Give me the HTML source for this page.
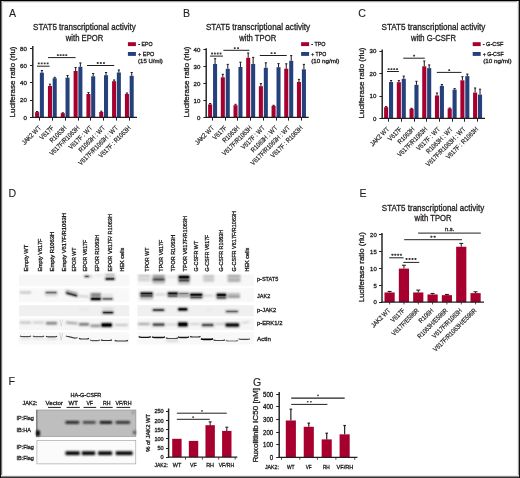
<!DOCTYPE html>
<html><head><meta charset="utf-8"><style>
html,body{margin:0;padding:0;background:#fff;}
svg{display:block;will-change:transform;font-family:"Liberation Sans",sans-serif;}
</style></head><body>
<svg width="520" height="478" viewBox="0 0 520 478">
<defs>
<filter id="b1" x="-20%" y="-100%" width="140%" height="300%"><feGaussianBlur stdDeviation="0.6"/></filter>
<filter id="b2" x="-20%" y="-100%" width="140%" height="300%"><feGaussianBlur stdDeviation="1.0"/></filter>
<filter id="g8" filterUnits="userSpaceOnUse" x="0" y="0" width="520" height="478"><feGaussianBlur stdDeviation="0.8"/></filter>
<filter id="g9" filterUnits="userSpaceOnUse" x="0" y="0" width="520" height="478"><feGaussianBlur stdDeviation="0.9"/></filter>
</defs>
<rect x="0" y="0" width="520" height="478" fill="#fff"/>
<rect x="35.10" y="112.10" width="4.05" height="5.20" fill="#a8002e"/>
<rect x="39.85" y="72.70" width="4.05" height="44.60" fill="#25417c"/>
<line x1="37.12" y1="112.10" x2="37.12" y2="111.50" stroke="#231f20" stroke-width="1.05"/>
<line x1="36.02" y1="111.50" x2="38.23" y2="111.50" stroke="#231f20" stroke-width="1.05"/>
<line x1="41.88" y1="72.70" x2="41.88" y2="70.50" stroke="#231f20" stroke-width="1.05"/>
<line x1="40.77" y1="70.50" x2="42.98" y2="70.50" stroke="#231f20" stroke-width="1.05"/>
<rect x="47.93" y="86.00" width="4.05" height="31.30" fill="#a8002e"/>
<rect x="52.68" y="78.20" width="4.05" height="39.10" fill="#25417c"/>
<line x1="49.95" y1="86.00" x2="49.95" y2="84.20" stroke="#231f20" stroke-width="1.05"/>
<line x1="48.85" y1="84.20" x2="51.05" y2="84.20" stroke="#231f20" stroke-width="1.05"/>
<line x1="54.70" y1="78.20" x2="54.70" y2="77.30" stroke="#231f20" stroke-width="1.05"/>
<line x1="53.60" y1="77.30" x2="55.80" y2="77.30" stroke="#231f20" stroke-width="1.05"/>
<rect x="60.76" y="113.20" width="4.05" height="4.10" fill="#a8002e"/>
<rect x="65.51" y="77.70" width="4.05" height="39.60" fill="#25417c"/>
<line x1="62.79" y1="113.20" x2="62.79" y2="112.80" stroke="#231f20" stroke-width="1.05"/>
<line x1="61.69" y1="112.80" x2="63.89" y2="112.80" stroke="#231f20" stroke-width="1.05"/>
<line x1="67.54" y1="77.70" x2="67.54" y2="75.50" stroke="#231f20" stroke-width="1.05"/>
<line x1="66.44" y1="75.50" x2="68.64" y2="75.50" stroke="#231f20" stroke-width="1.05"/>
<rect x="73.59" y="71.00" width="4.05" height="46.30" fill="#a8002e"/>
<rect x="78.34" y="66.80" width="4.05" height="50.50" fill="#25417c"/>
<line x1="75.62" y1="71.00" x2="75.62" y2="67.50" stroke="#231f20" stroke-width="1.05"/>
<line x1="74.52" y1="67.50" x2="76.72" y2="67.50" stroke="#231f20" stroke-width="1.05"/>
<line x1="80.37" y1="66.80" x2="80.37" y2="62.90" stroke="#231f20" stroke-width="1.05"/>
<line x1="79.27" y1="62.90" x2="81.47" y2="62.90" stroke="#231f20" stroke-width="1.05"/>
<rect x="86.42" y="94.00" width="4.05" height="23.30" fill="#a8002e"/>
<rect x="91.17" y="76.30" width="4.05" height="41.00" fill="#25417c"/>
<line x1="88.45" y1="94.00" x2="88.45" y2="92.50" stroke="#231f20" stroke-width="1.05"/>
<line x1="87.35" y1="92.50" x2="89.55" y2="92.50" stroke="#231f20" stroke-width="1.05"/>
<line x1="93.20" y1="76.30" x2="93.20" y2="73.50" stroke="#231f20" stroke-width="1.05"/>
<line x1="92.10" y1="73.50" x2="94.30" y2="73.50" stroke="#231f20" stroke-width="1.05"/>
<rect x="99.25" y="112.00" width="4.05" height="5.30" fill="#a8002e"/>
<rect x="104.00" y="75.20" width="4.05" height="42.10" fill="#25417c"/>
<line x1="101.28" y1="112.00" x2="101.28" y2="111.20" stroke="#231f20" stroke-width="1.05"/>
<line x1="100.18" y1="111.20" x2="102.38" y2="111.20" stroke="#231f20" stroke-width="1.05"/>
<line x1="106.03" y1="75.20" x2="106.03" y2="72.50" stroke="#231f20" stroke-width="1.05"/>
<line x1="104.93" y1="72.50" x2="107.12" y2="72.50" stroke="#231f20" stroke-width="1.05"/>
<rect x="112.08" y="81.20" width="4.05" height="36.10" fill="#a8002e"/>
<rect x="116.83" y="72.50" width="4.05" height="44.80" fill="#25417c"/>
<line x1="114.11" y1="81.20" x2="114.11" y2="80.00" stroke="#231f20" stroke-width="1.05"/>
<line x1="113.01" y1="80.00" x2="115.21" y2="80.00" stroke="#231f20" stroke-width="1.05"/>
<line x1="118.86" y1="72.50" x2="118.86" y2="70.00" stroke="#231f20" stroke-width="1.05"/>
<line x1="117.76" y1="70.00" x2="119.96" y2="70.00" stroke="#231f20" stroke-width="1.05"/>
<rect x="124.91" y="94.00" width="4.05" height="23.30" fill="#a8002e"/>
<rect x="129.66" y="75.80" width="4.05" height="41.50" fill="#25417c"/>
<line x1="126.94" y1="94.00" x2="126.94" y2="93.00" stroke="#231f20" stroke-width="1.05"/>
<line x1="125.84" y1="93.00" x2="128.03" y2="93.00" stroke="#231f20" stroke-width="1.05"/>
<line x1="131.69" y1="75.80" x2="131.69" y2="72.50" stroke="#231f20" stroke-width="1.05"/>
<line x1="130.59" y1="72.50" x2="132.78" y2="72.50" stroke="#231f20" stroke-width="1.05"/>
<line x1="32.80" y1="117.90" x2="32.80" y2="45.90" stroke="#231f20" stroke-width="1.45"/>
<line x1="30.00" y1="117.50" x2="32.80" y2="117.50" stroke="#231f20" stroke-width="1.05"/>
<text x="26.90" y="119.50" font-size="6.1" text-anchor="end" fill="#231f20" stroke="#231f20" stroke-width="0.32">0</text>
<line x1="30.00" y1="100.50" x2="32.80" y2="100.50" stroke="#231f20" stroke-width="1.05"/>
<text x="26.90" y="102.30" font-size="6.1" text-anchor="end" fill="#231f20" stroke="#231f20" stroke-width="0.32">20</text>
<line x1="30.00" y1="82.50" x2="32.80" y2="82.50" stroke="#231f20" stroke-width="1.05"/>
<text x="26.90" y="85.20" font-size="6.1" text-anchor="end" fill="#231f20" stroke="#231f20" stroke-width="0.32">40</text>
<line x1="30.00" y1="65.50" x2="32.80" y2="65.50" stroke="#231f20" stroke-width="1.05"/>
<text x="26.90" y="68.00" font-size="6.1" text-anchor="end" fill="#231f20" stroke="#231f20" stroke-width="0.32">60</text>
<line x1="30.00" y1="48.50" x2="32.80" y2="48.50" stroke="#231f20" stroke-width="1.05"/>
<text x="26.90" y="50.80" font-size="6.1" text-anchor="end" fill="#231f20" stroke="#231f20" stroke-width="0.32">80</text>
<line x1="32.20" y1="117.30" x2="137.00" y2="117.30" stroke="#231f20" stroke-width="1.25"/>
<line x1="39.50" y1="117.30" x2="39.50" y2="120.60" stroke="#231f20" stroke-width="1.05"/>
<line x1="52.50" y1="117.30" x2="52.50" y2="120.60" stroke="#231f20" stroke-width="1.05"/>
<line x1="65.50" y1="117.30" x2="65.50" y2="120.60" stroke="#231f20" stroke-width="1.05"/>
<line x1="78.50" y1="117.30" x2="78.50" y2="120.60" stroke="#231f20" stroke-width="1.05"/>
<line x1="90.50" y1="117.30" x2="90.50" y2="120.60" stroke="#231f20" stroke-width="1.05"/>
<line x1="103.50" y1="117.30" x2="103.50" y2="120.60" stroke="#231f20" stroke-width="1.05"/>
<line x1="116.50" y1="117.30" x2="116.50" y2="120.60" stroke="#231f20" stroke-width="1.05"/>
<line x1="129.50" y1="117.30" x2="129.50" y2="120.60" stroke="#231f20" stroke-width="1.05"/>
<text transform="translate(41.35,128.40) rotate(-45)" font-size="6.7" text-anchor="end" fill="#231f20" stroke="#231f20" stroke-width="0.18" textLength="23.97" lengthAdjust="spacingAndGlyphs">JAK2 WT</text>
<text transform="translate(54.18,128.40) rotate(-45)" font-size="6.7" text-anchor="end" fill="#231f20" stroke="#231f20" stroke-width="0.18" textLength="16.72" lengthAdjust="spacingAndGlyphs">V617F</text>
<text transform="translate(67.01,128.40) rotate(-45)" font-size="6.7" text-anchor="end" fill="#231f20" stroke="#231f20" stroke-width="0.18" textLength="20.82" lengthAdjust="spacingAndGlyphs">R1063H</text>
<text transform="translate(79.84,128.40) rotate(-45)" font-size="6.7" text-anchor="end" fill="#231f20" stroke="#231f20" stroke-width="0.18" textLength="39.12" lengthAdjust="spacingAndGlyphs">V617F/R1063H</text>
<text transform="translate(92.67,128.40) rotate(-45)" font-size="6.7" text-anchor="end" fill="#231f20" stroke="#231f20" stroke-width="0.18" textLength="30.28" lengthAdjust="spacingAndGlyphs">V617F : WT</text>
<text transform="translate(105.50,128.40) rotate(-45)" font-size="6.7" text-anchor="end" fill="#231f20" stroke="#231f20" stroke-width="0.18" textLength="34.38" lengthAdjust="spacingAndGlyphs">R1063H : WT</text>
<text transform="translate(118.33,128.40) rotate(-45)" font-size="6.7" text-anchor="end" fill="#231f20" stroke="#231f20" stroke-width="0.18" textLength="52.68" lengthAdjust="spacingAndGlyphs">V617F/R1063H : WT</text>
<text transform="translate(131.16,128.40) rotate(-45)" font-size="6.7" text-anchor="end" fill="#231f20" stroke="#231f20" stroke-width="0.18" textLength="42.28" lengthAdjust="spacingAndGlyphs">V617F : R1063H</text>
<text transform="translate(14.60,82.00) rotate(-90)" font-size="8" text-anchor="middle" fill="#231f20" stroke="#231f20" stroke-width="0.32" textLength="71.00" lengthAdjust="spacingAndGlyphs">Luciferase ratio (rlu)</text>
<text x="33.10" y="30.40" font-size="9.0" text-anchor="start" fill="#231f20" stroke="#231f20" stroke-width="0.32" textLength="102.60" lengthAdjust="spacingAndGlyphs">STAT5 transcriptional activity</text>
<text x="65.80" y="40.60" font-size="9.0" text-anchor="start" fill="#231f20" stroke="#231f20" stroke-width="0.32" textLength="37.60" lengthAdjust="spacingAndGlyphs">with EPOR</text>
<rect x="127.90" y="42.20" width="8.00" height="3.90" fill="#a8002e"/>
<rect x="127.90" y="52.00" width="8.00" height="3.90" fill="#25417c"/>
<text x="138.20" y="45.90" font-size="5.8" text-anchor="start" fill="#231f20" stroke="#231f20" stroke-width="0.32" textLength="14.30" lengthAdjust="spacingAndGlyphs">- EPO</text>
<text x="138.10" y="55.50" font-size="5.8" text-anchor="start" fill="#231f20" stroke="#231f20" stroke-width="0.32" textLength="16.20" lengthAdjust="spacingAndGlyphs">+ EPO</text>
<text x="138.10" y="62.80" font-size="5.8" text-anchor="start" fill="#231f20" stroke="#231f20" stroke-width="0.32" textLength="24.70" lengthAdjust="spacingAndGlyphs">(15 U/ml)</text>
<line x1="37.00" y1="66.20" x2="49.60" y2="66.20" stroke="#231f20" stroke-width="1.0"/>
<rect x="37.80" y="62.45" width="1.9" height="1.9" rx="0.4" fill="#3a3a3a"/>
<rect x="40.77" y="62.45" width="1.9" height="1.9" rx="0.4" fill="#3a3a3a"/>
<rect x="43.73" y="62.45" width="1.9" height="1.9" rx="0.4" fill="#3a3a3a"/>
<rect x="46.70" y="62.45" width="1.9" height="1.9" rx="0.4" fill="#3a3a3a"/>
<line x1="48.00" y1="57.60" x2="75.60" y2="57.60" stroke="#231f20" stroke-width="1.0"/>
<rect x="56.90" y="54.15" width="1.9" height="1.9" rx="0.4" fill="#3a3a3a"/>
<rect x="59.70" y="54.15" width="1.9" height="1.9" rx="0.4" fill="#3a3a3a"/>
<rect x="62.50" y="54.15" width="1.9" height="1.9" rx="0.4" fill="#3a3a3a"/>
<rect x="65.30" y="54.15" width="1.9" height="1.9" rx="0.4" fill="#3a3a3a"/>
<line x1="87.00" y1="65.50" x2="114.20" y2="65.50" stroke="#231f20" stroke-width="1.0"/>
<rect x="96.80" y="62.05" width="1.9" height="1.9" rx="0.4" fill="#3a3a3a"/>
<rect x="99.90" y="62.05" width="1.9" height="1.9" rx="0.4" fill="#3a3a3a"/>
<rect x="103.00" y="62.05" width="1.9" height="1.9" rx="0.4" fill="#3a3a3a"/>
<rect x="208.10" y="104.40" width="4.05" height="12.90" fill="#a8002e"/>
<rect x="213.05" y="64.00" width="4.05" height="53.30" fill="#25417c"/>
<line x1="210.12" y1="104.40" x2="210.12" y2="103.50" stroke="#231f20" stroke-width="1.05"/>
<line x1="209.03" y1="103.50" x2="211.22" y2="103.50" stroke="#231f20" stroke-width="1.05"/>
<line x1="215.07" y1="64.00" x2="215.07" y2="58.70" stroke="#231f20" stroke-width="1.05"/>
<line x1="213.97" y1="58.70" x2="216.17" y2="58.70" stroke="#231f20" stroke-width="1.05"/>
<rect x="220.79" y="77.30" width="4.05" height="40.00" fill="#a8002e"/>
<rect x="225.74" y="68.80" width="4.05" height="48.50" fill="#25417c"/>
<line x1="222.81" y1="77.30" x2="222.81" y2="74.30" stroke="#231f20" stroke-width="1.05"/>
<line x1="221.72" y1="74.30" x2="223.91" y2="74.30" stroke="#231f20" stroke-width="1.05"/>
<line x1="227.76" y1="68.80" x2="227.76" y2="64.40" stroke="#231f20" stroke-width="1.05"/>
<line x1="226.66" y1="64.40" x2="228.86" y2="64.40" stroke="#231f20" stroke-width="1.05"/>
<rect x="233.48" y="105.20" width="4.05" height="12.10" fill="#a8002e"/>
<rect x="238.43" y="67.00" width="4.05" height="50.30" fill="#25417c"/>
<line x1="235.50" y1="105.20" x2="235.50" y2="104.30" stroke="#231f20" stroke-width="1.05"/>
<line x1="234.41" y1="104.30" x2="236.60" y2="104.30" stroke="#231f20" stroke-width="1.05"/>
<line x1="240.45" y1="67.00" x2="240.45" y2="62.20" stroke="#231f20" stroke-width="1.05"/>
<line x1="239.35" y1="62.20" x2="241.55" y2="62.20" stroke="#231f20" stroke-width="1.05"/>
<rect x="246.17" y="57.80" width="4.05" height="59.50" fill="#a8002e"/>
<rect x="251.12" y="64.00" width="4.05" height="53.30" fill="#25417c"/>
<line x1="248.19" y1="57.80" x2="248.19" y2="53.00" stroke="#231f20" stroke-width="1.05"/>
<line x1="247.09" y1="53.00" x2="249.29" y2="53.00" stroke="#231f20" stroke-width="1.05"/>
<line x1="253.14" y1="64.00" x2="253.14" y2="57.40" stroke="#231f20" stroke-width="1.05"/>
<line x1="252.04" y1="57.40" x2="254.24" y2="57.40" stroke="#231f20" stroke-width="1.05"/>
<rect x="258.86" y="86.20" width="4.05" height="31.10" fill="#a8002e"/>
<rect x="263.81" y="67.80" width="4.05" height="49.50" fill="#25417c"/>
<line x1="260.88" y1="86.20" x2="260.88" y2="83.60" stroke="#231f20" stroke-width="1.05"/>
<line x1="259.78" y1="83.60" x2="261.99" y2="83.60" stroke="#231f20" stroke-width="1.05"/>
<line x1="265.83" y1="67.80" x2="265.83" y2="62.80" stroke="#231f20" stroke-width="1.05"/>
<line x1="264.73" y1="62.80" x2="266.94" y2="62.80" stroke="#231f20" stroke-width="1.05"/>
<rect x="271.55" y="105.90" width="4.05" height="11.40" fill="#a8002e"/>
<rect x="276.50" y="67.20" width="4.05" height="50.10" fill="#25417c"/>
<line x1="273.57" y1="105.90" x2="273.57" y2="105.30" stroke="#231f20" stroke-width="1.05"/>
<line x1="272.47" y1="105.30" x2="274.68" y2="105.30" stroke="#231f20" stroke-width="1.05"/>
<line x1="278.52" y1="67.20" x2="278.52" y2="63.60" stroke="#231f20" stroke-width="1.05"/>
<line x1="277.42" y1="63.60" x2="279.62" y2="63.60" stroke="#231f20" stroke-width="1.05"/>
<rect x="284.24" y="68.70" width="4.05" height="48.60" fill="#a8002e"/>
<rect x="289.19" y="60.80" width="4.05" height="56.50" fill="#25417c"/>
<line x1="286.26" y1="68.70" x2="286.26" y2="63.80" stroke="#231f20" stroke-width="1.05"/>
<line x1="285.16" y1="63.80" x2="287.37" y2="63.80" stroke="#231f20" stroke-width="1.05"/>
<line x1="291.21" y1="60.80" x2="291.21" y2="55.60" stroke="#231f20" stroke-width="1.05"/>
<line x1="290.11" y1="55.60" x2="292.31" y2="55.60" stroke="#231f20" stroke-width="1.05"/>
<rect x="296.93" y="82.00" width="4.05" height="35.30" fill="#a8002e"/>
<rect x="301.88" y="69.30" width="4.05" height="48.00" fill="#25417c"/>
<line x1="298.95" y1="82.00" x2="298.95" y2="79.40" stroke="#231f20" stroke-width="1.05"/>
<line x1="297.85" y1="79.40" x2="300.06" y2="79.40" stroke="#231f20" stroke-width="1.05"/>
<line x1="303.90" y1="69.30" x2="303.90" y2="64.40" stroke="#231f20" stroke-width="1.05"/>
<line x1="302.80" y1="64.40" x2="305.00" y2="64.40" stroke="#231f20" stroke-width="1.05"/>
<line x1="206.20" y1="117.90" x2="206.20" y2="48.20" stroke="#231f20" stroke-width="1.45"/>
<line x1="203.40" y1="117.50" x2="206.20" y2="117.50" stroke="#231f20" stroke-width="1.05"/>
<text x="200.30" y="119.50" font-size="6.1" text-anchor="end" fill="#231f20" stroke="#231f20" stroke-width="0.32">0</text>
<line x1="203.40" y1="100.50" x2="206.20" y2="100.50" stroke="#231f20" stroke-width="1.05"/>
<text x="200.30" y="102.50" font-size="6.1" text-anchor="end" fill="#231f20" stroke="#231f20" stroke-width="0.32">10</text>
<line x1="203.40" y1="83.50" x2="206.20" y2="83.50" stroke="#231f20" stroke-width="1.05"/>
<text x="200.30" y="85.50" font-size="6.1" text-anchor="end" fill="#231f20" stroke="#231f20" stroke-width="0.32">20</text>
<line x1="203.40" y1="66.50" x2="206.20" y2="66.50" stroke="#231f20" stroke-width="1.05"/>
<text x="200.30" y="68.50" font-size="6.1" text-anchor="end" fill="#231f20" stroke="#231f20" stroke-width="0.32">30</text>
<line x1="203.40" y1="49.50" x2="206.20" y2="49.50" stroke="#231f20" stroke-width="1.05"/>
<text x="200.30" y="51.50" font-size="6.1" text-anchor="end" fill="#231f20" stroke="#231f20" stroke-width="0.32">40</text>
<line x1="205.60" y1="117.30" x2="308.70" y2="117.30" stroke="#231f20" stroke-width="1.25"/>
<line x1="212.50" y1="117.30" x2="212.50" y2="120.60" stroke="#231f20" stroke-width="1.05"/>
<line x1="225.50" y1="117.30" x2="225.50" y2="120.60" stroke="#231f20" stroke-width="1.05"/>
<line x1="237.50" y1="117.30" x2="237.50" y2="120.60" stroke="#231f20" stroke-width="1.05"/>
<line x1="250.50" y1="117.30" x2="250.50" y2="120.60" stroke="#231f20" stroke-width="1.05"/>
<line x1="263.50" y1="117.30" x2="263.50" y2="120.60" stroke="#231f20" stroke-width="1.05"/>
<line x1="276.50" y1="117.30" x2="276.50" y2="120.60" stroke="#231f20" stroke-width="1.05"/>
<line x1="288.50" y1="117.30" x2="288.50" y2="120.60" stroke="#231f20" stroke-width="1.05"/>
<line x1="301.50" y1="117.30" x2="301.50" y2="120.60" stroke="#231f20" stroke-width="1.05"/>
<text transform="translate(214.40,128.40) rotate(-45)" font-size="6.7" text-anchor="end" fill="#231f20" stroke="#231f20" stroke-width="0.18" textLength="23.97" lengthAdjust="spacingAndGlyphs">JAK2 WT</text>
<text transform="translate(227.09,128.40) rotate(-45)" font-size="6.7" text-anchor="end" fill="#231f20" stroke="#231f20" stroke-width="0.18" textLength="16.72" lengthAdjust="spacingAndGlyphs">V617F</text>
<text transform="translate(239.78,128.40) rotate(-45)" font-size="6.7" text-anchor="end" fill="#231f20" stroke="#231f20" stroke-width="0.18" textLength="20.82" lengthAdjust="spacingAndGlyphs">R1063H</text>
<text transform="translate(252.47,128.40) rotate(-45)" font-size="6.7" text-anchor="end" fill="#231f20" stroke="#231f20" stroke-width="0.18" textLength="39.12" lengthAdjust="spacingAndGlyphs">V617F/R1063H</text>
<text transform="translate(265.16,128.40) rotate(-45)" font-size="6.7" text-anchor="end" fill="#231f20" stroke="#231f20" stroke-width="0.18" textLength="30.28" lengthAdjust="spacingAndGlyphs">V617F : WT</text>
<text transform="translate(277.85,128.40) rotate(-45)" font-size="6.7" text-anchor="end" fill="#231f20" stroke="#231f20" stroke-width="0.18" textLength="34.38" lengthAdjust="spacingAndGlyphs">R1063H : WT</text>
<text transform="translate(290.54,128.40) rotate(-45)" font-size="6.7" text-anchor="end" fill="#231f20" stroke="#231f20" stroke-width="0.18" textLength="52.68" lengthAdjust="spacingAndGlyphs">V617F/R1063H : WT</text>
<text transform="translate(303.23,128.40) rotate(-45)" font-size="6.7" text-anchor="end" fill="#231f20" stroke="#231f20" stroke-width="0.18" textLength="42.28" lengthAdjust="spacingAndGlyphs">V617F : R1063H</text>
<text transform="translate(188.60,82.00) rotate(-90)" font-size="8" text-anchor="middle" fill="#231f20" stroke="#231f20" stroke-width="0.32" textLength="71.00" lengthAdjust="spacingAndGlyphs">Luciferase ratio (rlu)</text>
<text x="205.90" y="30.40" font-size="9.0" text-anchor="start" fill="#231f20" stroke="#231f20" stroke-width="0.32" textLength="104.30" lengthAdjust="spacingAndGlyphs">STAT5 transcriptional activity</text>
<text x="239.20" y="40.60" font-size="9.0" text-anchor="start" fill="#231f20" stroke="#231f20" stroke-width="0.32" textLength="37.00" lengthAdjust="spacingAndGlyphs">with TPOR</text>
<rect x="301.10" y="42.20" width="8.00" height="3.90" fill="#a8002e"/>
<rect x="301.10" y="52.00" width="8.00" height="3.90" fill="#25417c"/>
<text x="311.20" y="45.90" font-size="5.8" text-anchor="start" fill="#231f20" stroke="#231f20" stroke-width="0.32" textLength="14.30" lengthAdjust="spacingAndGlyphs">- TPO</text>
<text x="311.20" y="55.50" font-size="5.8" text-anchor="start" fill="#231f20" stroke="#231f20" stroke-width="0.32" textLength="15.00" lengthAdjust="spacingAndGlyphs">+ TPO</text>
<text x="311.20" y="62.80" font-size="5.8" text-anchor="start" fill="#231f20" stroke="#231f20" stroke-width="0.32" textLength="28.20" lengthAdjust="spacingAndGlyphs">(10 ng/ml)</text>
<line x1="210.00" y1="56.10" x2="223.00" y2="56.10" stroke="#231f20" stroke-width="1.0"/>
<rect x="211.10" y="52.55" width="1.9" height="1.9" rx="0.4" fill="#3a3a3a"/>
<rect x="213.93" y="52.55" width="1.9" height="1.9" rx="0.4" fill="#3a3a3a"/>
<rect x="216.77" y="52.55" width="1.9" height="1.9" rx="0.4" fill="#3a3a3a"/>
<rect x="219.60" y="52.55" width="1.9" height="1.9" rx="0.4" fill="#3a3a3a"/>
<line x1="223.40" y1="50.30" x2="249.40" y2="50.30" stroke="#231f20" stroke-width="1.0"/>
<rect x="233.80" y="47.15" width="1.9" height="1.9" rx="0.4" fill="#3a3a3a"/>
<rect x="237.10" y="47.15" width="1.9" height="1.9" rx="0.4" fill="#3a3a3a"/>
<line x1="259.80" y1="55.50" x2="286.70" y2="55.50" stroke="#231f20" stroke-width="1.0"/>
<rect x="270.60" y="52.15" width="1.9" height="1.9" rx="0.4" fill="#3a3a3a"/>
<rect x="273.90" y="52.15" width="1.9" height="1.9" rx="0.4" fill="#3a3a3a"/>
<rect x="384.10" y="107.20" width="4.10" height="11.20" fill="#a8002e"/>
<rect x="389.00" y="82.00" width="4.10" height="36.40" fill="#25417c"/>
<line x1="386.15" y1="107.20" x2="386.15" y2="106.60" stroke="#231f20" stroke-width="1.05"/>
<line x1="385.05" y1="106.60" x2="387.25" y2="106.60" stroke="#231f20" stroke-width="1.05"/>
<line x1="391.05" y1="82.00" x2="391.05" y2="80.50" stroke="#231f20" stroke-width="1.05"/>
<line x1="389.95" y1="80.50" x2="392.15" y2="80.50" stroke="#231f20" stroke-width="1.05"/>
<rect x="396.81" y="82.20" width="4.10" height="36.20" fill="#a8002e"/>
<rect x="401.71" y="78.80" width="4.10" height="39.60" fill="#25417c"/>
<line x1="398.86" y1="82.20" x2="398.86" y2="80.60" stroke="#231f20" stroke-width="1.05"/>
<line x1="397.76" y1="80.60" x2="399.96" y2="80.60" stroke="#231f20" stroke-width="1.05"/>
<line x1="403.76" y1="78.80" x2="403.76" y2="76.10" stroke="#231f20" stroke-width="1.05"/>
<line x1="402.66" y1="76.10" x2="404.86" y2="76.10" stroke="#231f20" stroke-width="1.05"/>
<rect x="409.52" y="108.80" width="4.10" height="9.60" fill="#a8002e"/>
<rect x="414.42" y="84.80" width="4.10" height="33.60" fill="#25417c"/>
<line x1="411.57" y1="108.80" x2="411.57" y2="108.30" stroke="#231f20" stroke-width="1.05"/>
<line x1="410.47" y1="108.30" x2="412.67" y2="108.30" stroke="#231f20" stroke-width="1.05"/>
<line x1="416.47" y1="84.80" x2="416.47" y2="81.30" stroke="#231f20" stroke-width="1.05"/>
<line x1="415.37" y1="81.30" x2="417.57" y2="81.30" stroke="#231f20" stroke-width="1.05"/>
<rect x="422.23" y="66.30" width="4.10" height="52.10" fill="#a8002e"/>
<rect x="427.13" y="68.10" width="4.10" height="50.30" fill="#25417c"/>
<line x1="424.28" y1="66.30" x2="424.28" y2="61.00" stroke="#231f20" stroke-width="1.05"/>
<line x1="423.18" y1="61.00" x2="425.38" y2="61.00" stroke="#231f20" stroke-width="1.05"/>
<line x1="429.18" y1="68.10" x2="429.18" y2="64.90" stroke="#231f20" stroke-width="1.05"/>
<line x1="428.08" y1="64.90" x2="430.28" y2="64.90" stroke="#231f20" stroke-width="1.05"/>
<rect x="434.94" y="95.50" width="4.10" height="22.90" fill="#a8002e"/>
<rect x="439.84" y="85.90" width="4.10" height="32.50" fill="#25417c"/>
<line x1="436.99" y1="95.50" x2="436.99" y2="93.00" stroke="#231f20" stroke-width="1.05"/>
<line x1="435.89" y1="93.00" x2="438.09" y2="93.00" stroke="#231f20" stroke-width="1.05"/>
<line x1="441.89" y1="85.90" x2="441.89" y2="84.50" stroke="#231f20" stroke-width="1.05"/>
<line x1="440.79" y1="84.50" x2="442.99" y2="84.50" stroke="#231f20" stroke-width="1.05"/>
<rect x="447.65" y="108.50" width="4.10" height="9.90" fill="#a8002e"/>
<rect x="452.55" y="89.60" width="4.10" height="28.80" fill="#25417c"/>
<line x1="449.70" y1="108.50" x2="449.70" y2="108.00" stroke="#231f20" stroke-width="1.05"/>
<line x1="448.60" y1="108.00" x2="450.80" y2="108.00" stroke="#231f20" stroke-width="1.05"/>
<line x1="454.60" y1="89.60" x2="454.60" y2="88.60" stroke="#231f20" stroke-width="1.05"/>
<line x1="453.50" y1="88.60" x2="455.70" y2="88.60" stroke="#231f20" stroke-width="1.05"/>
<rect x="460.36" y="80.30" width="4.10" height="38.10" fill="#a8002e"/>
<rect x="465.26" y="76.10" width="4.10" height="42.30" fill="#25417c"/>
<line x1="462.41" y1="80.30" x2="462.41" y2="76.70" stroke="#231f20" stroke-width="1.05"/>
<line x1="461.31" y1="76.70" x2="463.51" y2="76.70" stroke="#231f20" stroke-width="1.05"/>
<line x1="467.31" y1="76.10" x2="467.31" y2="74.10" stroke="#231f20" stroke-width="1.05"/>
<line x1="466.21" y1="74.10" x2="468.41" y2="74.10" stroke="#231f20" stroke-width="1.05"/>
<rect x="473.07" y="92.60" width="4.10" height="25.80" fill="#a8002e"/>
<rect x="477.97" y="94.60" width="4.10" height="23.80" fill="#25417c"/>
<line x1="475.12" y1="92.60" x2="475.12" y2="88.00" stroke="#231f20" stroke-width="1.05"/>
<line x1="474.02" y1="88.00" x2="476.22" y2="88.00" stroke="#231f20" stroke-width="1.05"/>
<line x1="480.02" y1="94.60" x2="480.02" y2="89.20" stroke="#231f20" stroke-width="1.05"/>
<line x1="478.92" y1="89.20" x2="481.12" y2="89.20" stroke="#231f20" stroke-width="1.05"/>
<line x1="382.20" y1="119.00" x2="382.20" y2="49.60" stroke="#231f20" stroke-width="1.45"/>
<line x1="379.40" y1="118.50" x2="382.20" y2="118.50" stroke="#231f20" stroke-width="1.05"/>
<text x="376.30" y="120.60" font-size="6.1" text-anchor="end" fill="#231f20" stroke="#231f20" stroke-width="0.32">0</text>
<line x1="379.40" y1="96.50" x2="382.20" y2="96.50" stroke="#231f20" stroke-width="1.05"/>
<text x="376.30" y="98.30" font-size="6.1" text-anchor="end" fill="#231f20" stroke="#231f20" stroke-width="0.32">10</text>
<line x1="379.40" y1="73.50" x2="382.20" y2="73.50" stroke="#231f20" stroke-width="1.05"/>
<text x="376.30" y="75.80" font-size="6.1" text-anchor="end" fill="#231f20" stroke="#231f20" stroke-width="0.32">20</text>
<line x1="379.40" y1="51.50" x2="382.20" y2="51.50" stroke="#231f20" stroke-width="1.05"/>
<text x="376.30" y="53.30" font-size="6.1" text-anchor="end" fill="#231f20" stroke="#231f20" stroke-width="0.32">30</text>
<line x1="381.60" y1="118.40" x2="485.00" y2="118.40" stroke="#231f20" stroke-width="1.25"/>
<line x1="388.50" y1="118.40" x2="388.50" y2="121.70" stroke="#231f20" stroke-width="1.05"/>
<line x1="401.50" y1="118.40" x2="401.50" y2="121.70" stroke="#231f20" stroke-width="1.05"/>
<line x1="414.50" y1="118.40" x2="414.50" y2="121.70" stroke="#231f20" stroke-width="1.05"/>
<line x1="426.50" y1="118.40" x2="426.50" y2="121.70" stroke="#231f20" stroke-width="1.05"/>
<line x1="439.50" y1="118.40" x2="439.50" y2="121.70" stroke="#231f20" stroke-width="1.05"/>
<line x1="452.50" y1="118.40" x2="452.50" y2="121.70" stroke="#231f20" stroke-width="1.05"/>
<line x1="464.50" y1="118.40" x2="464.50" y2="121.70" stroke="#231f20" stroke-width="1.05"/>
<line x1="477.50" y1="118.40" x2="477.50" y2="121.70" stroke="#231f20" stroke-width="1.05"/>
<text transform="translate(389.60,129.70) rotate(-45)" font-size="6.7" text-anchor="end" fill="#231f20" stroke="#231f20" stroke-width="0.18" textLength="23.97" lengthAdjust="spacingAndGlyphs">JAK2 WT</text>
<text transform="translate(402.31,129.70) rotate(-45)" font-size="6.7" text-anchor="end" fill="#231f20" stroke="#231f20" stroke-width="0.18" textLength="16.72" lengthAdjust="spacingAndGlyphs">V617F</text>
<text transform="translate(415.02,129.70) rotate(-45)" font-size="6.7" text-anchor="end" fill="#231f20" stroke="#231f20" stroke-width="0.18" textLength="20.82" lengthAdjust="spacingAndGlyphs">R1063H</text>
<text transform="translate(427.73,129.70) rotate(-45)" font-size="6.7" text-anchor="end" fill="#231f20" stroke="#231f20" stroke-width="0.18" textLength="39.12" lengthAdjust="spacingAndGlyphs">V617F/R1063H</text>
<text transform="translate(440.44,129.70) rotate(-45)" font-size="6.7" text-anchor="end" fill="#231f20" stroke="#231f20" stroke-width="0.18" textLength="30.28" lengthAdjust="spacingAndGlyphs">V617F : WT</text>
<text transform="translate(453.15,129.70) rotate(-45)" font-size="6.7" text-anchor="end" fill="#231f20" stroke="#231f20" stroke-width="0.18" textLength="34.38" lengthAdjust="spacingAndGlyphs">R1063H : WT</text>
<text transform="translate(465.86,129.70) rotate(-45)" font-size="6.7" text-anchor="end" fill="#231f20" stroke="#231f20" stroke-width="0.18" textLength="52.68" lengthAdjust="spacingAndGlyphs">V617F/R1063H : WT</text>
<text transform="translate(478.57,129.70) rotate(-45)" font-size="6.7" text-anchor="end" fill="#231f20" stroke="#231f20" stroke-width="0.18" textLength="42.28" lengthAdjust="spacingAndGlyphs">V617F : R1063H</text>
<text transform="translate(364.20,83.00) rotate(-90)" font-size="8" text-anchor="middle" fill="#231f20" stroke="#231f20" stroke-width="0.32" textLength="71.00" lengthAdjust="spacingAndGlyphs">Luciferase ratio (rlu)</text>
<text x="381.50" y="30.40" font-size="9.0" text-anchor="start" fill="#231f20" stroke="#231f20" stroke-width="0.32" textLength="103.90" lengthAdjust="spacingAndGlyphs">STAT5 transcriptional activity</text>
<text x="411.00" y="40.60" font-size="9.0" text-anchor="start" fill="#231f20" stroke="#231f20" stroke-width="0.32" textLength="45.00" lengthAdjust="spacingAndGlyphs">with G-CSFR</text>
<rect x="472.70" y="42.20" width="8.00" height="3.90" fill="#a8002e"/>
<rect x="472.70" y="52.00" width="8.00" height="3.90" fill="#25417c"/>
<text x="482.70" y="45.90" font-size="5.8" text-anchor="start" fill="#231f20" stroke="#231f20" stroke-width="0.32" textLength="20.80" lengthAdjust="spacingAndGlyphs">- G-CSF</text>
<text x="482.70" y="55.50" font-size="5.8" text-anchor="start" fill="#231f20" stroke="#231f20" stroke-width="0.32" textLength="21.00" lengthAdjust="spacingAndGlyphs">+ G-CSF</text>
<text x="483.20" y="62.80" font-size="5.8" text-anchor="start" fill="#231f20" stroke="#231f20" stroke-width="0.32" textLength="28.30" lengthAdjust="spacingAndGlyphs">(10 ng/ml)</text>
<line x1="387.00" y1="71.50" x2="398.90" y2="71.50" stroke="#231f20" stroke-width="1.0"/>
<rect x="387.70" y="68.15" width="1.9" height="1.9" rx="0.4" fill="#3a3a3a"/>
<rect x="390.50" y="68.15" width="1.9" height="1.9" rx="0.4" fill="#3a3a3a"/>
<rect x="393.30" y="68.15" width="1.9" height="1.9" rx="0.4" fill="#3a3a3a"/>
<rect x="396.10" y="68.15" width="1.9" height="1.9" rx="0.4" fill="#3a3a3a"/>
<line x1="403.20" y1="58.20" x2="424.80" y2="58.20" stroke="#231f20" stroke-width="1.0"/>
<rect x="413.15" y="54.65" width="1.9" height="1.9" rx="0.4" fill="#3a3a3a"/>
<line x1="436.80" y1="72.40" x2="461.50" y2="72.40" stroke="#231f20" stroke-width="1.0"/>
<rect x="448.25" y="69.15" width="1.9" height="1.9" rx="0.4" fill="#3a3a3a"/>
<text x="9.00" y="17.30" font-size="10.6" text-anchor="start" fill="#231f20" stroke="#231f20" stroke-width="0.12">A</text>
<text x="183.00" y="16.90" font-size="10.6" text-anchor="start" fill="#231f20" stroke="#231f20" stroke-width="0.12">B</text>
<text x="358.20" y="17.30" font-size="10.6" text-anchor="start" fill="#231f20" stroke="#231f20" stroke-width="0.12">C</text>
<text x="8.50" y="197.20" font-size="10.6" text-anchor="start" fill="#231f20" stroke="#231f20" stroke-width="0.12">D</text>
<text x="359.40" y="197.30" font-size="10.6" text-anchor="start" fill="#231f20" stroke="#231f20" stroke-width="0.12">E</text>
<text x="8.40" y="385.10" font-size="10.6" text-anchor="start" fill="#231f20" stroke="#231f20" stroke-width="0.12">F</text>
<text x="253.00" y="385.70" font-size="10.6" text-anchor="start" fill="#231f20" stroke="#231f20" stroke-width="0.12">G</text>
<rect x="384.50" y="292.46" width="10.20" height="9.74" fill="#a8002e"/>
<line x1="389.60" y1="292.46" x2="389.60" y2="291.45" stroke="#231f20" stroke-width="1.05"/>
<line x1="387.60" y1="291.45" x2="391.60" y2="291.45" stroke="#231f20" stroke-width="1.05"/>
<rect x="398.83" y="268.60" width="10.20" height="33.60" fill="#a8002e"/>
<line x1="403.93" y1="268.60" x2="403.93" y2="265.24" stroke="#231f20" stroke-width="1.05"/>
<line x1="401.93" y1="265.24" x2="405.93" y2="265.24" stroke="#231f20" stroke-width="1.05"/>
<rect x="413.16" y="292.46" width="10.20" height="9.74" fill="#a8002e"/>
<line x1="418.26" y1="292.46" x2="418.26" y2="290.10" stroke="#231f20" stroke-width="1.05"/>
<line x1="416.26" y1="290.10" x2="420.26" y2="290.10" stroke="#231f20" stroke-width="1.05"/>
<rect x="427.49" y="294.47" width="10.20" height="7.73" fill="#a8002e"/>
<line x1="432.59" y1="294.47" x2="432.59" y2="293.46" stroke="#231f20" stroke-width="1.05"/>
<line x1="430.59" y1="293.46" x2="434.59" y2="293.46" stroke="#231f20" stroke-width="1.05"/>
<rect x="441.82" y="295.14" width="10.20" height="7.06" fill="#a8002e"/>
<line x1="446.92" y1="295.14" x2="446.92" y2="294.47" stroke="#231f20" stroke-width="1.05"/>
<line x1="444.92" y1="294.47" x2="448.92" y2="294.47" stroke="#231f20" stroke-width="1.05"/>
<rect x="456.15" y="246.76" width="10.20" height="55.44" fill="#a8002e"/>
<line x1="461.25" y1="246.76" x2="461.25" y2="243.40" stroke="#231f20" stroke-width="1.05"/>
<line x1="459.25" y1="243.40" x2="463.25" y2="243.40" stroke="#231f20" stroke-width="1.05"/>
<rect x="470.48" y="293.13" width="10.20" height="9.07" fill="#a8002e"/>
<line x1="475.58" y1="293.13" x2="475.58" y2="291.78" stroke="#231f20" stroke-width="1.05"/>
<line x1="473.58" y1="291.78" x2="477.58" y2="291.78" stroke="#231f20" stroke-width="1.05"/>
<line x1="382.00" y1="302.80" x2="382.00" y2="232.90" stroke="#231f20" stroke-width="1.45"/>
<line x1="379.00" y1="302.50" x2="382.00" y2="302.50" stroke="#231f20" stroke-width="1.05"/>
<text x="376.70" y="304.43" font-size="6.2" text-anchor="end" fill="#231f20" stroke="#231f20" stroke-width="0.32" textLength="3.30" lengthAdjust="spacingAndGlyphs">0</text>
<line x1="379.00" y1="285.50" x2="382.00" y2="285.50" stroke="#231f20" stroke-width="1.05"/>
<text x="376.70" y="287.63" font-size="6.2" text-anchor="end" fill="#231f20" stroke="#231f20" stroke-width="0.32" textLength="3.30" lengthAdjust="spacingAndGlyphs">5</text>
<line x1="379.00" y1="268.50" x2="382.00" y2="268.50" stroke="#231f20" stroke-width="1.05"/>
<text x="376.70" y="270.83" font-size="6.2" text-anchor="end" fill="#231f20" stroke="#231f20" stroke-width="0.32" textLength="6.60" lengthAdjust="spacingAndGlyphs">10</text>
<line x1="379.00" y1="251.50" x2="382.00" y2="251.50" stroke="#231f20" stroke-width="1.05"/>
<text x="376.70" y="254.03" font-size="6.2" text-anchor="end" fill="#231f20" stroke="#231f20" stroke-width="0.32" textLength="6.60" lengthAdjust="spacingAndGlyphs">15</text>
<line x1="379.00" y1="234.50" x2="382.00" y2="234.50" stroke="#231f20" stroke-width="1.05"/>
<text x="376.70" y="237.23" font-size="6.2" text-anchor="end" fill="#231f20" stroke="#231f20" stroke-width="0.32" textLength="6.60" lengthAdjust="spacingAndGlyphs">20</text>
<line x1="381.40" y1="302.20" x2="484.00" y2="302.20" stroke="#231f20" stroke-width="1.25"/>
<line x1="389.60" y1="302.20" x2="389.60" y2="304.40" stroke="#231f20" stroke-width="0.8"/>
<text transform="translate(390.80,311.00) rotate(-45)" font-size="6.7" text-anchor="end" fill="#231f20" stroke="#231f20" stroke-width="0.18" textLength="23.97" lengthAdjust="spacingAndGlyphs">JAK2 WT</text>
<line x1="403.93" y1="302.20" x2="403.93" y2="304.40" stroke="#231f20" stroke-width="0.8"/>
<text transform="translate(405.13,311.00) rotate(-45)" font-size="6.7" text-anchor="end" fill="#231f20" stroke="#231f20" stroke-width="0.18" textLength="16.72" lengthAdjust="spacingAndGlyphs">V617F</text>
<line x1="418.26" y1="302.20" x2="418.26" y2="304.40" stroke="#231f20" stroke-width="0.8"/>
<text transform="translate(419.46,311.00) rotate(-45)" font-size="6.7" text-anchor="end" fill="#231f20" stroke="#231f20" stroke-width="0.18" textLength="35.65" lengthAdjust="spacingAndGlyphs">V617F/E596R</text>
<line x1="432.59" y1="302.20" x2="432.59" y2="304.40" stroke="#231f20" stroke-width="0.8"/>
<text transform="translate(433.79,311.00) rotate(-45)" font-size="6.7" text-anchor="end" fill="#231f20" stroke="#231f20" stroke-width="0.18" textLength="17.67" lengthAdjust="spacingAndGlyphs">R106H</text>
<line x1="446.92" y1="302.20" x2="446.92" y2="304.40" stroke="#231f20" stroke-width="0.8"/>
<text transform="translate(448.12,311.00) rotate(-45)" font-size="6.7" text-anchor="end" fill="#231f20" stroke="#231f20" stroke-width="0.18" textLength="39.76" lengthAdjust="spacingAndGlyphs">R1063H/E596R</text>
<line x1="461.25" y1="302.20" x2="461.25" y2="304.40" stroke="#231f20" stroke-width="0.8"/>
<text transform="translate(462.45,311.00) rotate(-45)" font-size="6.7" text-anchor="end" fill="#231f20" stroke="#231f20" stroke-width="0.18" textLength="39.12" lengthAdjust="spacingAndGlyphs">V617F/R1063H</text>
<line x1="475.58" y1="302.20" x2="475.58" y2="304.40" stroke="#231f20" stroke-width="0.8"/>
<text transform="translate(476.78,311.00) rotate(-45)" font-size="6.7" text-anchor="end" fill="#231f20" stroke="#231f20" stroke-width="0.18" textLength="58.05" lengthAdjust="spacingAndGlyphs">V617F/R1063H/E596R</text>
<text transform="translate(363.60,267.20) rotate(-90)" font-size="8" text-anchor="middle" fill="#231f20" stroke="#231f20" stroke-width="0.32" textLength="70.00" lengthAdjust="spacingAndGlyphs">Luciferase ratio (rlu)</text>
<text x="381.80" y="210.60" font-size="9.0" text-anchor="start" fill="#231f20" stroke="#231f20" stroke-width="0.32" textLength="102.50" lengthAdjust="spacingAndGlyphs">STAT5 transcriptional activity</text>
<text x="414.60" y="220.80" font-size="9.0" text-anchor="start" fill="#231f20" stroke="#231f20" stroke-width="0.32" textLength="36.90" lengthAdjust="spacingAndGlyphs">with TPOR</text>
<line x1="389.20" y1="257.80" x2="403.60" y2="257.80" stroke="#231f20" stroke-width="1.0"/>
<rect x="391.50" y="253.75" width="1.9" height="1.9" rx="0.4" fill="#3a3a3a"/>
<rect x="394.33" y="253.75" width="1.9" height="1.9" rx="0.4" fill="#3a3a3a"/>
<rect x="397.17" y="253.75" width="1.9" height="1.9" rx="0.4" fill="#3a3a3a"/>
<rect x="400.00" y="253.75" width="1.9" height="1.9" rx="0.4" fill="#3a3a3a"/>
<line x1="403.30" y1="262.40" x2="419.20" y2="262.40" stroke="#231f20" stroke-width="1.0"/>
<rect x="405.60" y="258.05" width="1.9" height="1.9" rx="0.4" fill="#3a3a3a"/>
<rect x="408.57" y="258.05" width="1.9" height="1.9" rx="0.4" fill="#3a3a3a"/>
<rect x="411.53" y="258.05" width="1.9" height="1.9" rx="0.4" fill="#3a3a3a"/>
<rect x="414.50" y="258.05" width="1.9" height="1.9" rx="0.4" fill="#3a3a3a"/>
<line x1="404.20" y1="239.70" x2="461.90" y2="239.70" stroke="#231f20" stroke-width="1.0"/>
<rect x="430.40" y="235.75" width="1.9" height="1.9" rx="0.4" fill="#3a3a3a"/>
<rect x="433.70" y="235.75" width="1.9" height="1.9" rx="0.4" fill="#3a3a3a"/>
<line x1="418.10" y1="233.10" x2="480.80" y2="233.10" stroke="#231f20" stroke-width="1.0"/>
<text x="444.90" y="230.80" font-size="6.2" text-anchor="start" fill="#231f20" stroke="#231f20" stroke-width="0.32" textLength="9.40" lengthAdjust="spacingAndGlyphs">n.s.</text>
<text x="70.40" y="396.60" font-size="6.0" text-anchor="start" fill="#231f20" stroke="#231f20" stroke-width="0.32" textLength="31.00" lengthAdjust="spacingAndGlyphs">HA-G-CSFR</text>
<text x="22.40" y="405.40" font-size="6.0" text-anchor="start" fill="#231f20" stroke="#231f20" stroke-width="0.32" textLength="14.90" lengthAdjust="spacingAndGlyphs">JAK2:</text>
<text x="45.60" y="405.40" font-size="6.0" text-anchor="start" fill="#231f20" stroke="#231f20" stroke-width="0.32" textLength="17.20" lengthAdjust="spacingAndGlyphs">Vector</text>
<line x1="48.00" y1="407.40" x2="60.90" y2="407.40" stroke="#231f20" stroke-width="1.0"/>
<text x="68.50" y="405.40" font-size="6.0" text-anchor="start" fill="#231f20" stroke="#231f20" stroke-width="0.32" textLength="9.40" lengthAdjust="spacingAndGlyphs">WT</text>
<line x1="66.60" y1="407.40" x2="79.80" y2="407.40" stroke="#231f20" stroke-width="1.0"/>
<text x="86.40" y="405.40" font-size="6.0" text-anchor="start" fill="#231f20" stroke="#231f20" stroke-width="0.32" textLength="6.60" lengthAdjust="spacingAndGlyphs">VF</text>
<line x1="83.50" y1="407.40" x2="96.20" y2="407.40" stroke="#231f20" stroke-width="1.0"/>
<text x="102.90" y="405.40" font-size="6.0" text-anchor="start" fill="#231f20" stroke="#231f20" stroke-width="0.32" textLength="7.60" lengthAdjust="spacingAndGlyphs">RH</text>
<line x1="100.10" y1="407.40" x2="112.70" y2="407.40" stroke="#231f20" stroke-width="1.0"/>
<text x="115.50" y="405.40" font-size="6.0" text-anchor="start" fill="#231f20" stroke="#231f20" stroke-width="0.32" textLength="16.00" lengthAdjust="spacingAndGlyphs">VF/RH</text>
<line x1="116.50" y1="407.40" x2="130.20" y2="407.40" stroke="#231f20" stroke-width="1.0"/>
<rect x="36.60" y="410.00" width="99.30" height="26.50" fill="#bebebe" stroke="#8a8a8a" stroke-width="0.6"/>
<line x1="36.90" y1="410.00" x2="36.90" y2="436.50" stroke="#555" stroke-width="0.8"/>
<ellipse cx="38.0" cy="433.2" rx="2.0" ry="3.2" fill="#000" filter="url(#g9)"/>
<ellipse cx="134.4" cy="432.6" rx="1.2" ry="2.0" fill="#333" filter="url(#g8)"/>
<ellipse cx="133.0" cy="412.6" rx="1.0" ry="1.0" fill="#666" filter="url(#g8)"/>
<rect x="36.90" y="440.60" width="98.90" height="23.30" fill="#fbfbfb" stroke="#9a9a9a" stroke-width="0.6"/>
<text x="16.40" y="420.10" font-size="6.0" text-anchor="start" fill="#231f20" stroke="#231f20" stroke-width="0.32" textLength="17.49" lengthAdjust="spacingAndGlyphs">IP:Flag</text>
<text x="16.40" y="431.80" font-size="6.0" text-anchor="start" fill="#231f20" stroke="#231f20" stroke-width="0.32" textLength="14.42" lengthAdjust="spacingAndGlyphs">IB:HA</text>
<text x="16.40" y="449.30" font-size="6.0" text-anchor="start" fill="#231f20" stroke="#231f20" stroke-width="0.32" textLength="17.49" lengthAdjust="spacingAndGlyphs">IP:Flag</text>
<text x="16.40" y="459.60" font-size="6.0" text-anchor="start" fill="#231f20" stroke="#231f20" stroke-width="0.32" textLength="17.49" lengthAdjust="spacingAndGlyphs">IB:Flag</text>
<rect x="65.5" y="421.10" width="13.6" height="2.60" fill="#101010" filter="url(#g8)"/>
<rect x="82.9" y="421.10" width="12.7" height="2.60" fill="#383838" filter="url(#g8)"/>
<rect x="99.8" y="421.10" width="12.3" height="2.60" fill="#000" filter="url(#g8)"/>
<rect x="115.7" y="421.10" width="14.2" height="2.60" fill="#202020" filter="url(#g8)"/>
<rect x="65.5" y="451.30" width="14.2" height="3.80" fill="#000" filter="url(#g8)"/>
<rect x="81.8" y="451.30" width="13.4" height="3.80" fill="#000" filter="url(#g8)"/>
<rect x="98.1" y="451.30" width="14.0" height="3.80" fill="#000" filter="url(#g8)"/>
<rect x="115.7" y="451.30" width="16.9" height="3.80" fill="#000" filter="url(#g8)"/>
<rect x="172.20" y="438.80" width="9.40" height="18.40" fill="#a8002e"/>
<rect x="188.83" y="440.90" width="9.40" height="16.30" fill="#a8002e"/>
<rect x="205.46" y="425.18" width="9.40" height="32.02" fill="#a8002e"/>
<line x1="210.16" y1="425.18" x2="210.16" y2="421.87" stroke="#231f20" stroke-width="1.05"/>
<line x1="208.66" y1="421.87" x2="211.66" y2="421.87" stroke="#231f20" stroke-width="1.05"/>
<rect x="222.09" y="430.89" width="9.40" height="26.31" fill="#a8002e"/>
<line x1="226.79" y1="430.89" x2="226.79" y2="427.21" stroke="#231f20" stroke-width="1.05"/>
<line x1="225.29" y1="427.21" x2="228.29" y2="427.21" stroke="#231f20" stroke-width="1.05"/>
<line x1="168.60" y1="457.80" x2="168.60" y2="408.50" stroke="#231f20" stroke-width="1.45"/>
<line x1="166.00" y1="457.50" x2="168.60" y2="457.50" stroke="#231f20" stroke-width="1.05"/>
<text x="163.70" y="459.40" font-size="6.1" text-anchor="end" fill="#231f20" stroke="#231f20" stroke-width="0.32" textLength="3.10" lengthAdjust="spacingAndGlyphs">0</text>
<line x1="166.00" y1="448.50" x2="168.60" y2="448.50" stroke="#231f20" stroke-width="1.05"/>
<text x="163.70" y="450.20" font-size="6.1" text-anchor="end" fill="#231f20" stroke="#231f20" stroke-width="0.32" textLength="6.20" lengthAdjust="spacingAndGlyphs">50</text>
<line x1="166.00" y1="438.50" x2="168.60" y2="438.50" stroke="#231f20" stroke-width="1.05"/>
<text x="163.70" y="441.00" font-size="6.1" text-anchor="end" fill="#231f20" stroke="#231f20" stroke-width="0.32" textLength="9.30" lengthAdjust="spacingAndGlyphs">100</text>
<line x1="166.00" y1="429.50" x2="168.60" y2="429.50" stroke="#231f20" stroke-width="1.05"/>
<text x="163.70" y="431.80" font-size="6.1" text-anchor="end" fill="#231f20" stroke="#231f20" stroke-width="0.32" textLength="9.30" lengthAdjust="spacingAndGlyphs">150</text>
<line x1="166.00" y1="420.50" x2="168.60" y2="420.50" stroke="#231f20" stroke-width="1.05"/>
<text x="163.70" y="422.60" font-size="6.1" text-anchor="end" fill="#231f20" stroke="#231f20" stroke-width="0.32" textLength="9.30" lengthAdjust="spacingAndGlyphs">200</text>
<line x1="166.00" y1="411.50" x2="168.60" y2="411.50" stroke="#231f20" stroke-width="1.05"/>
<text x="163.70" y="413.40" font-size="6.1" text-anchor="end" fill="#231f20" stroke="#231f20" stroke-width="0.32" textLength="9.30" lengthAdjust="spacingAndGlyphs">250</text>
<line x1="168.00" y1="457.20" x2="237.30" y2="457.20" stroke="#231f20" stroke-width="1.25"/>
<line x1="185.50" y1="457.20" x2="185.50" y2="459.60" stroke="#231f20" stroke-width="0.8"/>
<line x1="202.40" y1="457.20" x2="202.40" y2="459.60" stroke="#231f20" stroke-width="0.8"/>
<line x1="218.70" y1="457.20" x2="218.70" y2="459.60" stroke="#231f20" stroke-width="0.8"/>
<line x1="235.20" y1="457.20" x2="235.20" y2="459.60" stroke="#231f20" stroke-width="0.8"/>
<text x="154.40" y="466.70" font-size="6.0" text-anchor="start" fill="#231f20" stroke="#231f20" stroke-width="0.32" textLength="13.50" lengthAdjust="spacingAndGlyphs">JAK2:</text>
<text x="172.80" y="466.70" font-size="6.0" text-anchor="start" fill="#231f20" stroke="#231f20" stroke-width="0.32" textLength="8.50" lengthAdjust="spacingAndGlyphs">WT</text>
<text x="190.10" y="466.70" font-size="6.0" text-anchor="start" fill="#231f20" stroke="#231f20" stroke-width="0.32" textLength="6.60" lengthAdjust="spacingAndGlyphs">VF</text>
<text x="206.20" y="466.70" font-size="6.0" text-anchor="start" fill="#231f20" stroke="#231f20" stroke-width="0.32" textLength="7.80" lengthAdjust="spacingAndGlyphs">RH</text>
<text x="218.70" y="466.70" font-size="6.0" text-anchor="start" fill="#231f20" stroke="#231f20" stroke-width="0.32" textLength="15.40" lengthAdjust="spacingAndGlyphs">VF/RH</text>
<line x1="176.80" y1="419.30" x2="209.80" y2="419.30" stroke="#231f20" stroke-width="1.0"/>
<rect x="192.30" y="416.30" width="1.6" height="1.6" rx="0.4" fill="#3a3a3a"/>
<line x1="176.80" y1="413.20" x2="226.80" y2="413.20" stroke="#231f20" stroke-width="1.0"/>
<rect x="201.20" y="410.10" width="1.6" height="1.6" rx="0.4" fill="#3a3a3a"/>
<text transform="translate(150.40,432.80) rotate(-90)" font-size="6.0" text-anchor="middle" fill="#231f20" stroke="#231f20" stroke-width="0.32" textLength="38.00" lengthAdjust="spacingAndGlyphs">% of JAK2 WT</text>
<rect x="285.80" y="420.48" width="10.10" height="36.92" fill="#a8002e"/>
<line x1="290.85" y1="420.48" x2="290.85" y2="409.20" stroke="#231f20" stroke-width="1.2"/>
<line x1="289.55" y1="409.20" x2="292.15" y2="409.20" stroke="#231f20" stroke-width="1.2"/>
<rect x="303.73" y="426.78" width="10.10" height="30.62" fill="#a8002e"/>
<line x1="308.78" y1="426.78" x2="308.78" y2="423.13" stroke="#231f20" stroke-width="1.2"/>
<line x1="307.48" y1="423.13" x2="310.08" y2="423.13" stroke="#231f20" stroke-width="1.2"/>
<rect x="321.66" y="439.38" width="10.10" height="18.02" fill="#a8002e"/>
<line x1="326.71" y1="439.38" x2="326.71" y2="433.21" stroke="#231f20" stroke-width="1.2"/>
<line x1="325.41" y1="433.21" x2="328.01" y2="433.21" stroke="#231f20" stroke-width="1.2"/>
<rect x="339.59" y="434.34" width="10.10" height="23.06" fill="#a8002e"/>
<line x1="344.64" y1="434.34" x2="344.64" y2="425.52" stroke="#231f20" stroke-width="1.2"/>
<line x1="343.34" y1="425.52" x2="345.94" y2="425.52" stroke="#231f20" stroke-width="1.2"/>
<line x1="279.20" y1="458.00" x2="279.20" y2="392.00" stroke="#231f20" stroke-width="1.45"/>
<line x1="276.20" y1="457.50" x2="279.20" y2="457.50" stroke="#231f20" stroke-width="1.05"/>
<text x="273.20" y="459.70" font-size="6.4" text-anchor="end" fill="#231f20" stroke="#231f20" stroke-width="0.32" textLength="3.37" lengthAdjust="spacingAndGlyphs">0</text>
<line x1="276.20" y1="444.50" x2="279.20" y2="444.50" stroke="#231f20" stroke-width="1.05"/>
<text x="273.20" y="447.10" font-size="6.4" text-anchor="end" fill="#231f20" stroke="#231f20" stroke-width="0.32" textLength="10.11" lengthAdjust="spacingAndGlyphs">100</text>
<line x1="276.20" y1="432.50" x2="279.20" y2="432.50" stroke="#231f20" stroke-width="1.05"/>
<text x="273.20" y="434.50" font-size="6.4" text-anchor="end" fill="#231f20" stroke="#231f20" stroke-width="0.32" textLength="10.11" lengthAdjust="spacingAndGlyphs">200</text>
<line x1="276.20" y1="419.50" x2="279.20" y2="419.50" stroke="#231f20" stroke-width="1.05"/>
<text x="273.20" y="421.90" font-size="6.4" text-anchor="end" fill="#231f20" stroke="#231f20" stroke-width="0.32" textLength="10.11" lengthAdjust="spacingAndGlyphs">300</text>
<line x1="276.20" y1="406.50" x2="279.20" y2="406.50" stroke="#231f20" stroke-width="1.05"/>
<text x="273.20" y="409.30" font-size="6.4" text-anchor="end" fill="#231f20" stroke="#231f20" stroke-width="0.32" textLength="10.11" lengthAdjust="spacingAndGlyphs">400</text>
<line x1="276.20" y1="394.50" x2="279.20" y2="394.50" stroke="#231f20" stroke-width="1.05"/>
<text x="273.20" y="396.70" font-size="6.4" text-anchor="end" fill="#231f20" stroke="#231f20" stroke-width="0.32" textLength="10.11" lengthAdjust="spacingAndGlyphs">500</text>
<line x1="278.60" y1="457.40" x2="357.40" y2="457.40" stroke="#231f20" stroke-width="1.25"/>
<line x1="281.50" y1="457.40" x2="281.50" y2="459.80" stroke="#231f20" stroke-width="0.8"/>
<line x1="299.80" y1="457.40" x2="299.80" y2="459.80" stroke="#231f20" stroke-width="0.8"/>
<line x1="317.40" y1="457.40" x2="317.40" y2="459.80" stroke="#231f20" stroke-width="0.8"/>
<line x1="335.90" y1="457.40" x2="335.90" y2="459.80" stroke="#231f20" stroke-width="0.8"/>
<line x1="354.70" y1="457.40" x2="354.70" y2="459.80" stroke="#231f20" stroke-width="0.8"/>
<text x="264.90" y="468.80" font-size="6.0" text-anchor="start" fill="#231f20" stroke="#231f20" stroke-width="0.32" textLength="14.00" lengthAdjust="spacingAndGlyphs">JAK2:</text>
<text x="286.90" y="468.80" font-size="6.0" text-anchor="start" fill="#231f20" stroke="#231f20" stroke-width="0.32" textLength="7.70" lengthAdjust="spacingAndGlyphs">WT</text>
<text x="305.70" y="468.80" font-size="6.0" text-anchor="start" fill="#231f20" stroke="#231f20" stroke-width="0.32" textLength="5.90" lengthAdjust="spacingAndGlyphs">VF</text>
<text x="322.90" y="468.80" font-size="6.0" text-anchor="start" fill="#231f20" stroke="#231f20" stroke-width="0.32" textLength="6.90" lengthAdjust="spacingAndGlyphs">RH</text>
<text x="336.50" y="468.80" font-size="6.0" text-anchor="start" fill="#231f20" stroke="#231f20" stroke-width="0.32" textLength="16.80" lengthAdjust="spacingAndGlyphs">VF/RH</text>
<line x1="291.20" y1="404.40" x2="327.40" y2="404.40" stroke="#231f20" stroke-width="1.0"/>
<rect x="306.90" y="400.90" width="1.6" height="1.6" rx="0.4" fill="#3a3a3a"/>
<rect x="310.10" y="400.90" width="1.6" height="1.6" rx="0.4" fill="#3a3a3a"/>
<line x1="291.20" y1="398.10" x2="344.70" y2="398.10" stroke="#231f20" stroke-width="1.3"/>
<rect x="317.20" y="394.60" width="1.6" height="1.6" rx="0.4" fill="#3a3a3a"/>
<text transform="translate(257.60,425.20) rotate(-90)" font-size="7.4" text-anchor="middle" fill="#231f20" stroke="#231f20" stroke-width="0.32" textLength="74.60" lengthAdjust="spacingAndGlyphs">Ruxolitinib IC50 [nM]</text>
<text transform="translate(28.20,271.50) rotate(-90)" font-size="5.9" text-anchor="start" fill="#231f20" stroke="#231f20" stroke-width="0.32" textLength="26.80" lengthAdjust="spacingAndGlyphs">Empty WT</text>
<text transform="translate(41.65,271.50) rotate(-90)" font-size="5.9" text-anchor="start" fill="#231f20" stroke="#231f20" stroke-width="0.32" textLength="32.70" lengthAdjust="spacingAndGlyphs">Empty V617F</text>
<text transform="translate(53.65,271.50) rotate(-90)" font-size="5.9" text-anchor="start" fill="#231f20" stroke="#231f20" stroke-width="0.32" textLength="39.70" lengthAdjust="spacingAndGlyphs">Empty R1063H</text>
<text transform="translate(65.65,271.50) rotate(-90)" font-size="5.9" text-anchor="start" fill="#231f20" stroke="#231f20" stroke-width="0.32" textLength="58.50" lengthAdjust="spacingAndGlyphs">Empty V617F/R1063H</text>
<text transform="translate(75.80,271.50) rotate(-90)" font-size="5.9" text-anchor="start" fill="#231f20" stroke="#231f20" stroke-width="0.32" textLength="23.80" lengthAdjust="spacingAndGlyphs">EPOR WT</text>
<text transform="translate(87.30,271.50) rotate(-90)" font-size="5.9" text-anchor="start" fill="#231f20" stroke="#231f20" stroke-width="0.32" textLength="31.70" lengthAdjust="spacingAndGlyphs">EPOR V617F</text>
<text transform="translate(98.70,271.50) rotate(-90)" font-size="5.9" text-anchor="start" fill="#231f20" stroke="#231f20" stroke-width="0.32" textLength="36.70" lengthAdjust="spacingAndGlyphs">EPOR R1063H</text>
<text transform="translate(112.20,271.50) rotate(-90)" font-size="5.9" text-anchor="start" fill="#231f20" stroke="#231f20" stroke-width="0.32" textLength="57.50" lengthAdjust="spacingAndGlyphs">EPOR V617F/ R1063H</text>
<text transform="translate(124.30,271.50) rotate(-90)" font-size="5.9" text-anchor="start" fill="#231f20" stroke="#231f20" stroke-width="0.32" textLength="23.80" lengthAdjust="spacingAndGlyphs">HEK cells</text>
<text transform="translate(149.00,271.50) rotate(-90)" font-size="5.9" text-anchor="start" fill="#231f20" stroke="#231f20" stroke-width="0.32" textLength="23.80" lengthAdjust="spacingAndGlyphs">TPOR WT</text>
<text transform="translate(162.50,271.50) rotate(-90)" font-size="5.9" text-anchor="start" fill="#231f20" stroke="#231f20" stroke-width="0.32" textLength="31.70" lengthAdjust="spacingAndGlyphs">TPOR V617F</text>
<text transform="translate(174.70,271.50) rotate(-90)" font-size="5.9" text-anchor="start" fill="#231f20" stroke="#231f20" stroke-width="0.32" textLength="36.70" lengthAdjust="spacingAndGlyphs">TPOR R1063H</text>
<text transform="translate(186.80,271.50) rotate(-90)" font-size="5.9" text-anchor="start" fill="#231f20" stroke="#231f20" stroke-width="0.32" textLength="55.50" lengthAdjust="spacingAndGlyphs">TPOR V617F/R1063H</text>
<text transform="translate(197.90,271.50) rotate(-90)" font-size="5.9" text-anchor="start" fill="#231f20" stroke="#231f20" stroke-width="0.32" textLength="30.80" lengthAdjust="spacingAndGlyphs">G-CSFR WT</text>
<text transform="translate(209.40,271.50) rotate(-90)" font-size="5.9" text-anchor="start" fill="#231f20" stroke="#231f20" stroke-width="0.32" textLength="36.70" lengthAdjust="spacingAndGlyphs">G-CSFR V617F</text>
<text transform="translate(223.30,271.50) rotate(-90)" font-size="5.9" text-anchor="start" fill="#231f20" stroke="#231f20" stroke-width="0.32" textLength="41.70" lengthAdjust="spacingAndGlyphs">G-CSFR R1063H</text>
<text transform="translate(235.60,271.50) rotate(-90)" font-size="5.9" text-anchor="start" fill="#231f20" stroke="#231f20" stroke-width="0.32" textLength="60.50" lengthAdjust="spacingAndGlyphs">G-CSFR V617F/R1063H</text>
<text transform="translate(248.80,271.50) rotate(-90)" font-size="5.9" text-anchor="start" fill="#231f20" stroke="#231f20" stroke-width="0.32" textLength="23.80" lengthAdjust="spacingAndGlyphs">HEK cells</text>
<rect x="18.90" y="274.50" width="110.40" height="11.60" fill="#f7f7f7"/>
<rect x="137.40" y="274.50" width="116.40" height="11.60" fill="#f7f7f7"/>
<rect x="18.90" y="288.30" width="110.40" height="13.70" fill="#f8f8f8"/>
<rect x="137.40" y="288.30" width="116.40" height="13.70" fill="#f8f8f8"/>
<rect x="18.90" y="305.20" width="110.40" height="11.10" fill="#f0f0f0"/>
<rect x="137.40" y="305.20" width="116.40" height="11.10" fill="#f0f0f0"/>
<rect x="18.90" y="318.50" width="110.40" height="11.60" fill="#f6f6f6"/>
<rect x="137.40" y="318.50" width="116.40" height="11.60" fill="#f6f6f6"/>
<rect x="18.90" y="332.30" width="110.40" height="12.10" fill="#f8f8f8"/>
<rect x="137.40" y="332.30" width="116.40" height="12.10" fill="#f8f8f8"/>
<text x="257.00" y="280.80" font-size="6.0" text-anchor="start" fill="#231f20" stroke="#231f20" stroke-width="0.32" textLength="21.20" lengthAdjust="spacingAndGlyphs">p-STAT5</text>
<text x="257.00" y="297.70" font-size="6.0" text-anchor="start" fill="#231f20" stroke="#231f20" stroke-width="0.32" textLength="13.30" lengthAdjust="spacingAndGlyphs">JAK2</text>
<text x="257.00" y="311.50" font-size="6.0" text-anchor="start" fill="#231f20" stroke="#231f20" stroke-width="0.32" textLength="19.30" lengthAdjust="spacingAndGlyphs">p-JAK2</text>
<text x="257.00" y="325.10" font-size="6.0" text-anchor="start" fill="#231f20" stroke="#231f20" stroke-width="0.32" textLength="25.40" lengthAdjust="spacingAndGlyphs">p-ERK1/2</text>
<text x="257.00" y="341.40" font-size="6.0" text-anchor="start" fill="#231f20" stroke="#231f20" stroke-width="0.32" textLength="13.90" lengthAdjust="spacingAndGlyphs">Actin</text>
<path d="M84.2,275.55L89.5,275.55L89.5,277.25L84.2,277.25Z" fill="#3a3a3a" filter="url(#g8)"/>
<path d="M85.0,275.93L88.7,275.93L88.7,276.87L85.0,276.87Z" fill="#3a3a3a" opacity="0.8"/>
<path d="M89.5,275.90L93.0,275.90L93.0,276.90L89.5,276.90Z" fill="#bbb" filter="url(#g8)"/>
<path d="M95.0,274.70L103.0,274.70L103.0,275.70L95.0,275.70Z" fill="#ddd" filter="url(#g8)"/>
<path d="M105.2,274.15L114.8,274.15L114.8,275.65L105.2,275.65Z" fill="#888" filter="url(#g8)"/>
<path d="M105.2,277.85L114.8,277.85L114.8,279.95L105.2,279.95Z" fill="#111" filter="url(#g8)"/>
<path d="M106.0,278.32L114.0,278.32L114.0,279.48L106.0,279.48Z" fill="#111" opacity="0.8"/>
<path d="M19.9,291.70L31.0,291.70L31.0,293.30L19.9,293.30Z" fill="#aaa" filter="url(#g8)"/>
<path d="M45.3,291.60L57.0,291.60L57.0,293.80L45.3,293.80Z" fill="#5a5a5a" filter="url(#g8)"/>
<path d="M46.1,292.09L56.2,292.09L56.2,293.31L46.1,293.31Z" fill="#5a5a5a" opacity="0.8"/>
<path d="M45.3,294.20L57.0,294.20L57.0,296.20L45.3,296.20Z" fill="#d4d4d4" filter="url(#g8)"/>
<path d="M65.8,289.85L77.5,292.75L77.5,294.35L65.8,291.45Z" fill="#999" filter="url(#g8)"/>
<path d="M65.8,291.85L77.5,294.75L77.5,296.95L65.8,294.05Z" fill="#2a2a2a" filter="url(#g8)"/>
<path d="M66.6,292.34L76.7,295.24L76.7,296.45L66.6,293.56Z" fill="#2a2a2a" opacity="0.8"/>
<path d="M79.0,295.30L88.8,296.10L88.8,297.50L79.0,296.70Z" fill="#c0c0c0" filter="url(#g8)"/>
<path d="M90.6,293.10L101.0,293.10L101.0,296.50L90.6,296.50Z" fill="#777" filter="url(#g8)"/>
<path d="M90.6,297.50L101.0,297.50L101.0,300.30L90.6,300.30Z" fill="#000" filter="url(#g8)"/>
<path d="M91.4,298.13L100.2,298.13L100.2,299.67L91.4,299.67Z" fill="#000" opacity="0.8"/>
<path d="M102.1,294.60L113.0,294.60L113.0,296.00L102.1,296.00Z" fill="#ccc" filter="url(#g8)"/>
<path d="M102.1,298.00L113.0,298.00L113.0,299.80L102.1,299.80Z" fill="#4a4a4a" filter="url(#g8)"/>
<path d="M102.9,298.40L112.2,298.40L112.2,299.39L102.9,299.39Z" fill="#4a4a4a" opacity="0.8"/>
<path d="M79.0,308.50L89.0,308.50L89.0,309.50L79.0,309.50Z" fill="#ddd" filter="url(#g8)"/>
<path d="M102.4,308.10L113.5,308.10L113.5,309.10L102.4,309.10Z" fill="#bbb" filter="url(#g8)"/>
<path d="M102.4,311.60L113.5,311.60L113.5,313.60L102.4,313.60Z" fill="#111" filter="url(#g8)"/>
<path d="M103.2,312.05L112.7,312.05L112.7,313.15L103.2,313.15Z" fill="#111" opacity="0.8"/>
<path d="M20.0,321.80L31.0,321.80L31.0,323.40L20.0,323.40Z" fill="#aaa" filter="url(#g8)"/>
<path d="M33.0,321.75L44.0,321.75L44.0,323.25L33.0,323.25Z" fill="#bbb" filter="url(#g8)"/>
<path d="M46.0,321.90L57.0,321.90L57.0,324.50L46.0,324.50Z" fill="#777" filter="url(#g8)"/>
<path d="M66.0,321.60L77.5,322.60L77.5,324.40L66.0,323.40Z" fill="#999" filter="url(#g8)"/>
<path d="M79.0,323.00L89.0,323.00L89.0,325.60L79.0,325.60Z" fill="#6a6a6a" filter="url(#g8)"/>
<path d="M90.5,324.50L100.3,324.50L100.3,327.10L90.5,327.10Z" fill="#8a8a8a" filter="url(#g8)"/>
<path d="M101.3,323.00L112.0,323.00L112.0,327.00L101.3,327.00Z" fill="#000" filter="url(#g8)"/>
<path d="M102.1,323.90L111.2,323.90L111.2,326.10L102.1,326.10Z" fill="#000" opacity="0.8"/>
<path d="M114.7,324.30L127.8,324.30L127.8,325.70L114.7,325.70Z" fill="#aaa" filter="url(#g8)"/>
<path d="M59.8,319.5L61.2,326.2L62.6,319.5" fill="none" stroke="#d4d4d4" stroke-width="0.8"/>
<path d="M20.0,336.00Q21.2,336.60 22.8,336.60L28.2,336.60Q29.8,336.60 31.0,336.00" fill="none" stroke="#333" stroke-width="1.2"/>
<path d="M33.0,336.10Q34.2,336.70 35.8,336.70L41.2,336.70Q42.8,336.70 44.0,336.10" fill="none" stroke="#444" stroke-width="1.2"/>
<path d="M46.0,336.30Q47.2,336.90 48.8,336.90L54.2,336.90Q55.8,336.90 57.0,336.30" fill="none" stroke="#222" stroke-width="1.2"/>
<path d="M66.0,335.95Q67.2,336.55 68.8,336.55L74.7,338.05Q76.3,338.05 77.5,337.45" fill="none" stroke="#444" stroke-width="1.2"/>
<path d="M79.0,338.40Q80.2,339.00 81.8,339.00L86.2,339.00Q87.8,339.00 89.0,338.40" fill="none" stroke="#333" stroke-width="1.2"/>
<path d="M90.0,340.00Q91.2,340.60 92.8,340.60L97.2,340.60Q98.8,340.60 100.0,340.00" fill="none" stroke="#555" stroke-width="1.2"/>
<path d="M101.0,339.90Q102.2,340.50 103.8,340.50L109.2,340.50Q110.8,340.50 112.0,339.90" fill="none" stroke="#333" stroke-width="1.2"/>
<path d="M114.7,340.40Q115.9,341.00 117.5,341.00L125.2,341.00Q126.8,341.00 128.0,340.40" fill="none" stroke="#333" stroke-width="1.2"/>
<path d="M20.0,337.65L31.0,337.65L31.0,339.15L20.0,339.15Z" fill="#ddd" filter="url(#g8)"/>
<path d="M33.0,337.75L44.0,337.75L44.0,339.25L33.0,339.25Z" fill="#e0e0e0" filter="url(#g8)"/>
<path d="M46.0,337.95L57.0,337.95L57.0,339.45L46.0,339.45Z" fill="#d4d4d4" filter="url(#g8)"/>
<path d="M59.8,332.8L61.2,340.2L62.6,332.8" fill="none" stroke="#ccc" stroke-width="0.8"/>
<path d="M138.2,275.00L150.3,275.00L150.3,277.00L138.2,277.00Z" fill="#bbb" filter="url(#g8)"/>
<path d="M138.2,277.40L150.3,277.40L150.3,281.40L138.2,281.40Z" fill="#d4d4d4" filter="url(#g8)"/>
<path d="M152.6,275.10L164.7,275.10L164.7,277.50L152.6,277.50Z" fill="#888" filter="url(#g8)"/>
<path d="M152.6,278.10L164.7,278.10L164.7,281.10L152.6,281.10Z" fill="#2a2a2a" filter="url(#g8)"/>
<path d="M152.6,281.40L164.7,281.40L164.7,283.40L152.6,283.40Z" fill="#a8a8a8" filter="url(#g8)"/>
<path d="M166.0,276.00L178.0,276.00L178.0,278.00L166.0,278.00Z" fill="#e6e6e6" filter="url(#g8)"/>
<path d="M178.5,275.50L189.5,275.50L189.5,278.90L178.5,278.90Z" fill="#000" filter="url(#g8)"/>
<path d="M179.3,276.26L188.7,276.26L188.7,278.13L179.3,278.13Z" fill="#000" opacity="0.8"/>
<path d="M178.5,279.10L189.5,279.10L189.5,282.10L178.5,282.10Z" fill="#404040" filter="url(#g8)"/>
<path d="M179.3,279.78L188.7,279.78L188.7,281.43L179.3,281.43Z" fill="#404040" opacity="0.8"/>
<path d="M178.5,282.20L189.5,282.20L189.5,284.20L178.5,284.20Z" fill="#b4b4b4" filter="url(#g8)"/>
<path d="M203.3,275.50L214.0,275.50L214.0,277.50L203.3,277.50Z" fill="#aaa" filter="url(#g8)"/>
<path d="M203.3,277.80L214.0,277.80L214.0,281.80L203.3,281.80Z" fill="#c8c8c8" filter="url(#g8)"/>
<path d="M227.7,275.20L240.4,275.20L240.4,277.20L227.7,277.20Z" fill="#888" filter="url(#g8)"/>
<path d="M227.7,277.55L240.4,277.55L240.4,282.05L227.7,282.05Z" fill="#b0b0b0" filter="url(#g8)"/>
<path d="M140.2,292.30L152.9,292.30L152.9,294.70L140.2,294.70Z" fill="#000" filter="url(#g8)"/>
<path d="M141.0,292.84L152.1,292.84L152.1,294.16L141.0,294.16Z" fill="#000" opacity="0.8"/>
<path d="M140.2,294.70L152.9,294.70L152.9,297.30L140.2,297.30Z" fill="#444" filter="url(#g8)"/>
<path d="M141.0,295.29L152.1,295.29L152.1,296.71L141.0,296.71Z" fill="#444" opacity="0.8"/>
<path d="M140.2,297.60L152.9,297.60L152.9,299.20L140.2,299.20Z" fill="#aaa" filter="url(#g8)"/>
<path d="M155.2,293.80L165.6,293.80L165.6,295.20L155.2,295.20Z" fill="#c0c0c0" filter="url(#g8)"/>
<path d="M167.6,292.20L178.0,292.20L178.0,294.80L167.6,294.80Z" fill="#000" filter="url(#g8)"/>
<path d="M168.4,292.79L177.2,292.79L177.2,294.21L168.4,294.21Z" fill="#000" opacity="0.8"/>
<path d="M167.6,294.90L178.0,294.90L178.0,297.10L167.6,297.10Z" fill="#5a5a5a" filter="url(#g8)"/>
<path d="M168.4,295.39L177.2,295.39L177.2,296.61L168.4,296.61Z" fill="#5a5a5a" opacity="0.8"/>
<path d="M178.5,292.80L189.0,292.80L189.0,294.40L178.5,294.40Z" fill="#555" filter="url(#g8)"/>
<path d="M179.3,293.16L188.2,293.16L188.2,294.04L179.3,294.04Z" fill="#555" opacity="0.8"/>
<path d="M178.5,294.80L189.0,294.80L189.0,297.20L178.5,297.20Z" fill="#999" filter="url(#g8)"/>
<path d="M190.0,293.30L202.5,293.30L202.5,296.30L190.0,296.30Z" fill="#000" filter="url(#g8)"/>
<path d="M190.8,293.98L201.7,293.98L201.7,295.62L190.8,295.62Z" fill="#000" opacity="0.8"/>
<path d="M190.0,296.50L202.5,296.50L202.5,298.50L190.0,298.50Z" fill="#4a4a4a" filter="url(#g8)"/>
<path d="M190.8,296.95L201.7,296.95L201.7,298.05L190.8,298.05Z" fill="#4a4a4a" opacity="0.8"/>
<path d="M203.5,294.90L213.5,294.90L213.5,296.30L203.5,296.30Z" fill="#c4c4c4" filter="url(#g8)"/>
<path d="M216.5,293.40L226.4,293.40L226.4,296.60L216.5,296.60Z" fill="#000" filter="url(#g8)"/>
<path d="M217.3,294.12L225.6,294.12L225.6,295.88L217.3,295.88Z" fill="#000" opacity="0.8"/>
<path d="M216.5,296.80L226.4,296.80L226.4,298.80L216.5,298.80Z" fill="#4a4a4a" filter="url(#g8)"/>
<path d="M217.3,297.25L225.6,297.25L225.6,298.35L217.3,298.35Z" fill="#4a4a4a" opacity="0.8"/>
<path d="M227.7,293.20L239.9,293.20L239.9,295.20L227.7,295.20Z" fill="#b0b0b0" filter="url(#g8)"/>
<path d="M227.7,295.50L239.9,295.50L239.9,297.70L227.7,297.70Z" fill="#7a7a7a" filter="url(#g8)"/>
<path d="M152.5,309.00L164.4,309.00L164.4,311.00L152.5,311.00Z" fill="#2a2a2a" filter="url(#g8)"/>
<path d="M153.3,309.45L163.6,309.45L163.6,310.55L153.3,310.55Z" fill="#2a2a2a" opacity="0.8"/>
<path d="M178.0,307.90L187.5,307.90L187.5,310.70L178.0,310.70Z" fill="#000" filter="url(#g8)"/>
<path d="M178.8,308.53L186.7,308.53L186.7,310.07L178.8,310.07Z" fill="#000" opacity="0.8"/>
<path d="M206.0,309.50L212.0,309.50L212.0,310.50L206.0,310.50Z" fill="#ddd" filter="url(#g8)"/>
<path d="M225.6,310.50L238.3,310.50L238.3,312.50L225.6,312.50Z" fill="#5a5a5a" filter="url(#g8)"/>
<path d="M226.4,310.95L237.5,310.95L237.5,312.05L226.4,312.05Z" fill="#5a5a5a" opacity="0.8"/>
<path d="M138.2,322.90L149.7,322.90L149.7,325.10L138.2,325.10Z" fill="#a0a0a0" filter="url(#g8)"/>
<path d="M152.6,323.10L164.7,323.10L164.7,326.10L152.6,326.10Z" fill="#555" filter="url(#g8)"/>
<path d="M153.4,323.78L163.9,323.78L163.9,325.43L153.4,325.43Z" fill="#555" opacity="0.8"/>
<path d="M166.4,323.75L176.8,323.75L176.8,325.25L166.4,325.25Z" fill="#c4c4c4" filter="url(#g8)"/>
<path d="M178.0,322.20L187.7,322.20L187.7,326.60L178.0,326.60Z" fill="#000" filter="url(#g8)"/>
<path d="M178.8,323.19L186.9,323.19L186.9,325.61L178.8,325.61Z" fill="#000" opacity="0.8"/>
<path d="M190.0,323.25L200.0,323.25L200.0,324.75L190.0,324.75Z" fill="#c0c0c0" filter="url(#g8)"/>
<path d="M201.7,323.50L213.7,323.50L213.7,326.50L201.7,326.50Z" fill="#555" filter="url(#g8)"/>
<path d="M202.5,324.18L212.9,324.18L212.9,325.82L202.5,325.82Z" fill="#555" opacity="0.8"/>
<path d="M215.0,323.25L226.0,323.25L226.0,324.75L215.0,324.75Z" fill="#bbb" filter="url(#g8)"/>
<path d="M225.6,323.00L239.1,323.00L239.1,327.00L225.6,327.00Z" fill="#1a1a1a" filter="url(#g8)"/>
<path d="M226.4,323.90L238.3,323.90L238.3,326.10L226.4,326.10Z" fill="#1a1a1a" opacity="0.8"/>
<path d="M241.5,322.40L249.4,321.40L249.4,322.60L241.5,323.60Z" fill="#bbb" filter="url(#g8)"/>
<path d="M138.7,336.70Q139.9,337.30 141.5,337.30L148.0,337.30Q149.6,337.30 150.8,336.70" fill="none" stroke="#111" stroke-width="1.3"/>
<path d="M152.0,336.90Q153.2,337.50 154.8,337.50L162.2,337.50Q163.8,337.50 165.0,336.90" fill="none" stroke="#111" stroke-width="1.3"/>
<path d="M166.0,337.90Q167.2,338.50 168.8,338.50L175.2,338.50Q176.8,338.50 178.0,337.90" fill="none" stroke="#333" stroke-width="1.2"/>
<path d="M178.0,336.90Q179.2,337.50 180.8,337.50L186.2,337.50Q187.8,337.50 189.0,336.90" fill="none" stroke="#1a1a1a" stroke-width="1.3"/>
<path d="M190.0,336.40Q191.2,337.00 192.8,337.00L197.7,337.00Q199.3,337.00 200.5,336.40" fill="none" stroke="#2a2a2a" stroke-width="1.2"/>
<path d="M201.0,338.80Q202.2,339.40 203.8,339.40L210.2,339.40Q211.8,339.40 213.0,338.80" fill="none" stroke="#000" stroke-width="1.7"/>
<path d="M213.5,339.90Q214.7,340.50 216.3,340.50L222.2,340.50Q223.8,340.50 225.0,339.90" fill="none" stroke="#4a4a4a" stroke-width="1.2"/>
<path d="M226.0,340.40Q227.2,341.00 228.8,341.00L235.2,341.00Q236.8,341.00 238.0,340.40" fill="none" stroke="#777" stroke-width="1.2"/>
<path d="M238.5,338.80Q239.7,339.40 241.3,339.40L247.2,339.40Q248.8,339.40 250.0,338.80" fill="none" stroke="#4a4a4a" stroke-width="1.2"/>
<path d="M166.0,339.60L178.0,339.60L178.0,341.60L166.0,341.60Z" fill="#d0d0d0" filter="url(#g8)"/>
<rect x="0" y="2" width="520" height="1" fill="#ececec" shape-rendering="crispEdges"/>
<rect x="0" y="1" width="520" height="1" fill="#a8a8a8" shape-rendering="crispEdges"/>
<rect x="2" y="0" width="1" height="478" fill="#e2e2e2" shape-rendering="crispEdges"/>
<rect x="1" y="0" width="1" height="478" fill="#777" shape-rendering="crispEdges"/>
<rect x="517" y="0" width="1" height="478" fill="#f0f0f0" shape-rendering="crispEdges"/>
<rect x="518" y="0" width="1" height="478" fill="#a0a0a0" shape-rendering="crispEdges"/>
<rect x="0" y="475" width="520" height="1" fill="#eeeeee" shape-rendering="crispEdges"/>
<rect x="0" y="476" width="520" height="1" fill="#888" shape-rendering="crispEdges"/>
<rect x="0" y="477" width="520" height="1" fill="#333" shape-rendering="crispEdges"/>
<rect x="519" y="0" width="1" height="478" fill="#111" shape-rendering="crispEdges"/>
<rect x="0" y="0" width="520" height="1" fill="#000" shape-rendering="crispEdges"/>
<rect x="0" y="0" width="1" height="478" fill="#111" shape-rendering="crispEdges"/>
</svg>
</body></html>
